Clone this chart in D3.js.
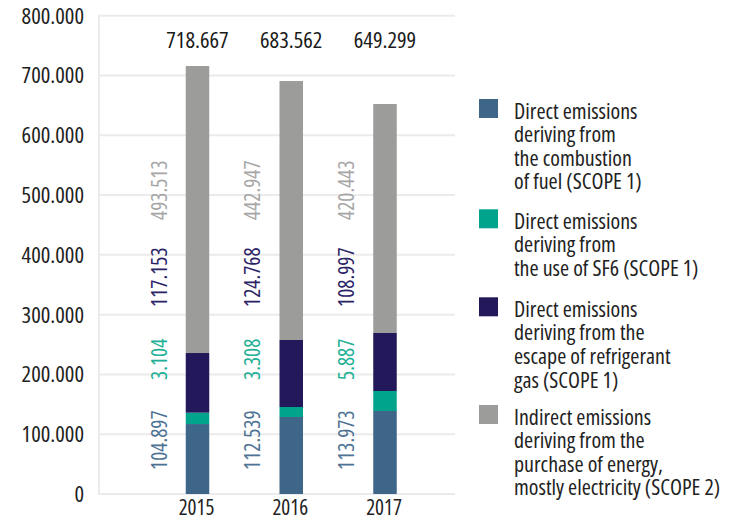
<!DOCTYPE html>
<html><head><meta charset="utf-8">
<script src="https://cdn.jsdelivr.net/npm/d3@7"></script>
<style>
body{margin:0;background:#fff;}
svg text{font-family:"Open Sans",sans-serif;font-stretch:75%;font-weight:400;}
</style></head>
<body><svg id="c" width="740" height="520"></svg>
<script>
const years = ["2015","2016","2017"];
const seriesNames = ["combustion","sf6","refrigerant","indirect"];
// drawn segment heights
const barCombustion  = [117000, 128800, 138800];
const barSF6         = [19000, 16700, 33500];
const barRefrigerant = [99800, 112100, 97000];
const barIndirect    = [480000, 433100, 383000];
// printed labels
const labelCombustion  = [104897, 112539, 113973];
const labelSF6         = [3104, 3308, 5887];
const labelRefrigerant = [117153, 124768, 108997];
const labelIndirect    = [493513, 442947, 420443];
const totals = [718667, 683562, 649299];
const yTicks = [0,100000,200000,300000,400000,500000,600000,700000,800000];
const legendLines = [
  ["Direct emissions","deriving from","the combustion","of fuel (SCOPE 1)"],
  ["Direct emissions","deriving from","the use of SF6 (SCOPE 1)"],
  ["Direct emissions","deriving from the","escape of refrigerant","gas (SCOPE 1)"],
  ["Indirect emissions","deriving from the","purchase of energy,","mostly electricity (SCOPE 2)"]
];

const colors = ["#3e6688","#00a48c","#23195a","#9c9c9b"];
const textColors = ["#4d7293","#22b096","#2b2366","#a6a6a6"];

const loc = d3.formatLocale({decimal:",",thousands:".",grouping:[3],currency:["",""]});
const fmt = loc.format(",d");

const svg = d3.select("#c");
const y = d3.scaleLinear().domain([0,800000]).range([494,15.7]);
const x = d3.scalePoint().domain(years).range([197.5,385]);
const bw = 23.5;

// gridlines
svg.append("g").selectAll("line").data(yTicks).join("line")
  .attr("x1",98).attr("x2",455)
  .attr("y1",d=>y(d)).attr("y2",d=>y(d))
  .attr("stroke","#ebebeb").attr("stroke-width",2);
svg.append("line").attr("x1",99).attr("x2",99).attr("y1",y(800000)-1).attr("y2",y(0)+1)
  .attr("stroke","#ebebeb").attr("stroke-width",2);

// y tick labels
svg.append("g").selectAll("text").data(yTicks).join("text")
  .attr("x",84).attr("y",d=>y(d)+8)
  .attr("text-anchor","end").attr("font-size",22.5).attr("fill","#222")
  .text(d=>fmt(d));

// stacked bars
const rows = years.map((yr,i)=>({year:yr,combustion:barCombustion[i],sf6:barSF6[i],refrigerant:barRefrigerant[i],indirect:barIndirect[i]}));
const stack = d3.stack().keys(seriesNames)(rows);
svg.append("g").selectAll("g").data(stack).join("g")
  .attr("fill",(d,i)=>colors[i])
  .selectAll("rect").data(d=>d).join("rect")
  .attr("x",d=>x(d.data.year)-bw/2).attr("width",bw)
  .attr("y",d=>y(d[1])).attr("height",d=>y(d[0])-y(d[1]));

// totals
svg.append("g").selectAll("text").data(totals).join("text")
  .attr("x",(d,i)=>x(years[i])).attr("y",48)
  .attr("text-anchor","middle").attr("font-size",22.5).attr("fill","#1a1a1a")
  .text(d=>fmt(d));

// x labels
svg.append("g").selectAll("text").data(years).join("text")
  .attr("x",d=>x(d)-1).attr("y",514.5)
  .attr("text-anchor","middle").attr("font-size",21).attr("fill","#222")
  .text(d=>d);

// rotated value labels
const labelSets = [labelCombustion,labelSF6,labelRefrigerant,labelIndirect];
const labelBottoms = [470,380,307,220];
labelSets.forEach((arr,s)=>{
  svg.append("g").selectAll("text").data(arr).join("text")
    .attr("transform",(d,i)=>`translate(${x(years[i])-31},${labelBottoms[s]}) rotate(-90)`)
    .attr("text-anchor","start").attr("font-size",21.5).attr("font-weight",300).attr("fill",textColors[s])
    .text(d=>fmt(d));
});

// legend
const groupTops = [99,209.3,297.3,405];
const lg = svg.append("g");
legendLines.forEach((lines,i)=>{
  lg.append("rect").attr("x",479).attr("y",groupTops[i]).attr("width",19).attr("height",19).attr("fill",colors[i]);
  lg.append("g").selectAll("text").data(lines).join("text")
    .attr("x",514).attr("y",(d,j)=>groupTops[i]+19.5+j*23.6)
    .attr("font-size",22).attr("fill","#222").text(d=>d);
});
</script></body></html>
